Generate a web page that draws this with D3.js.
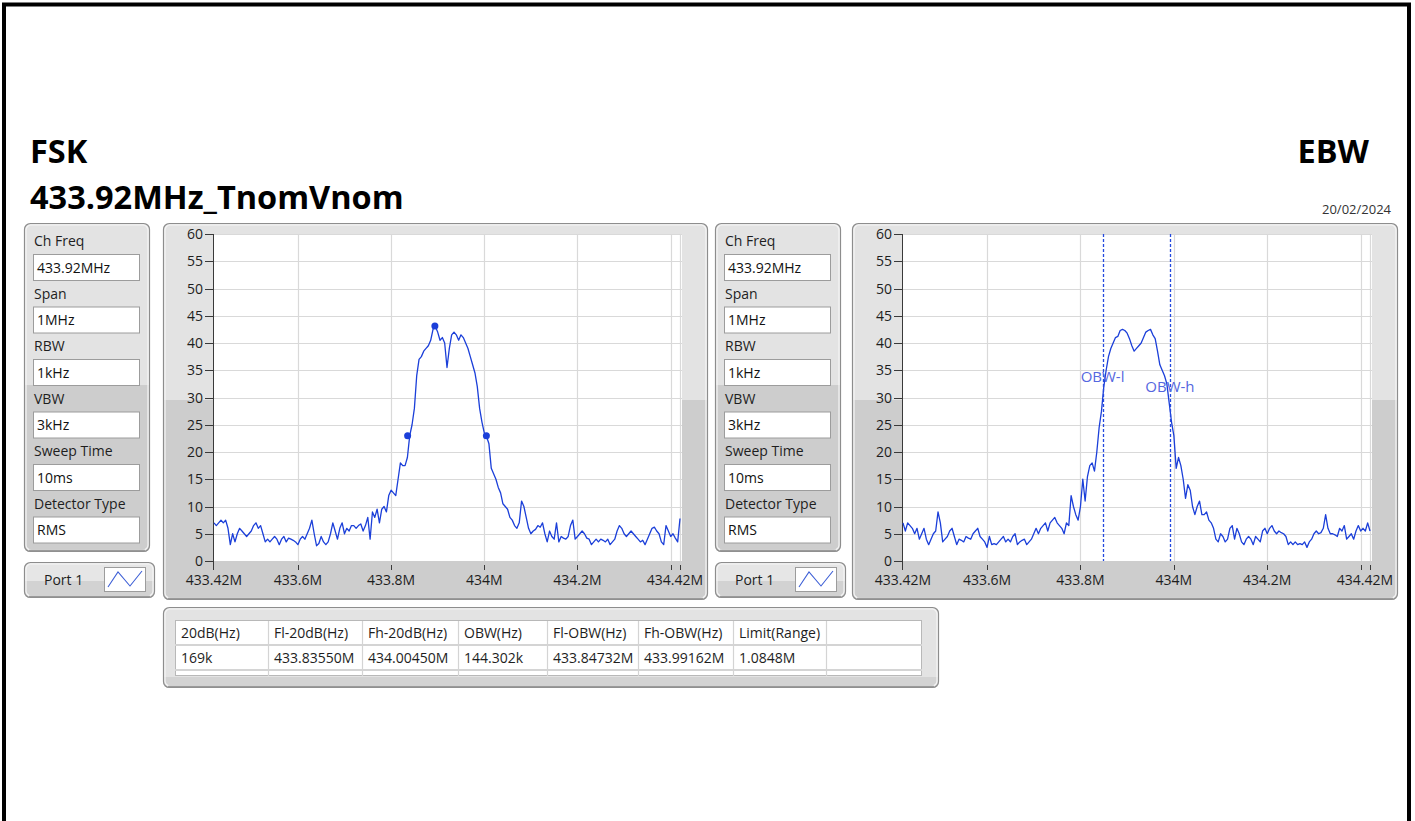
<!DOCTYPE html>
<html>
<head>
<meta charset="utf-8">
<script src="https://cdn.jsdelivr.net/npm/d3@7"></script>
<style>
body { margin: 0; background: #fff; }
svg text { font-family: "Open Sans", "Noto Sans", sans-serif; }
</style>
</head>
<body>
<svg id="page" width="1415" height="821"></svg>
<script>
//
// Data
//
var sweepStart = 433.42,
    sweepStop  = 434.42,
    sweepStep  = 0.005;

var freqTicks      = [433.42, 433.6, 433.8, 434.0, 434.2, 434.4, 434.42];
var freqTickLabels = ["433.42M", "433.6M", "433.8M", "434M", "434.2M", "", "434.42M"];
var levelTicks     = [0, 5, 10, 15, 20, 25, 30, 35, 40, 45, 50, 55, 60];

// 20 dB bandwidth trace (dBuV), one value per sweep step
var trace20dB = [
  7, 6.5, 7, 7.5, 7, 7.5, 6, 3, 5, 3.5, 5, 6, 5.5, 5, 4.5, 5, 5.5, 6.5, 7, 6,
  6.5, 5, 3.5, 4, 3.5, 4, 4.5, 4, 3, 4, 4.5, 3.5, 4.2, 4, 3.8, 3.5, 3, 4, 4.5, 4,
  5, 6, 7.5, 5, 2.8, 3.2, 4.5, 3.5, 3, 3.5, 5, 7, 5.5, 4, 6, 7, 5, 6, 5.5, 6.5,
  6.5, 6, 6.5, 6.8, 5.5, 6.5, 8, 4, 9, 8, 9.5, 7, 9.5, 10, 9, 12, 13, 12.5, 12, 15,
  18, 17.5, 17.5, 19, 23, 25, 28, 34, 37, 37.5, 38.5, 39, 39.5, 40.5, 42.5, 43, 42, 40.5, 41, 40,
  35.5, 39, 41.5, 42, 41.5, 40.5, 41.5, 41, 40, 39, 37.5, 36, 34.5, 32, 28, 25.5, 23.5, 22.8, 21.5, 17,
  16, 15, 13.5, 12.5, 10.5, 10, 9.5, 8, 7.5, 6.5, 6, 7, 11, 10, 8, 6, 5, 5.5, 5.8, 6.5,
  6.2, 7, 5, 3.5, 5.5, 4.5, 4, 7, 3.5, 4.5, 4.2, 4, 4.5, 6.5, 7.5, 4, 4.5, 5, 5.5, 5,
  4.2, 4, 3, 3.5, 4, 3.5, 4, 3.8, 3.5, 4, 3, 3.5, 4, 5.5, 6.5, 6, 5, 4.5, 5, 5.5,
  5, 4.5, 4, 3.5, 3.8, 3, 4, 5, 6, 6.2, 5.5, 5, 3.5, 3, 6.5, 5.5, 4.5, 5, 4.2, 3.5,
  7.8
];

// occupied bandwidth trace (dBuV)
var traceOBW = [
  7, 5.5, 7, 6.5, 6, 5, 6, 4, 5, 6, 4, 3, 4, 5, 5.5, 9, 7, 3.5, 4, 4.5,
  5.5, 6, 4.5, 3, 4, 3.8, 3.5, 4.5, 4.2, 4, 5, 5.5, 6, 4.5, 4, 3.5, 2.5, 4.5, 3, 3.2,
  3, 3.5, 4, 4.5, 3.5, 4, 3.5, 4.5, 5, 3, 3.5, 3.8, 4, 3, 3.5, 4, 5, 6, 5, 6,
  6.5, 7, 5.5, 7, 7.5, 8, 7, 6.5, 6, 5, 7, 6.5, 12, 10, 8.5, 7.5, 10, 15, 11, 15.5,
  17.5, 18, 16.5, 20, 24.5, 27.5, 32, 35, 37.5, 39, 40, 41, 41.2, 42.3, 42.5, 42.3, 41.8, 40.8, 39.5, 38.5,
  39, 39.5, 40, 41, 42, 42.3, 42.5, 41.5, 40.8, 38.5, 36, 35, 34, 32.5, 29, 25.5, 23, 17, 19, 17.5,
  15, 11.5, 14, 13, 10, 8.5, 10, 11, 8.5, 8.5, 9, 7.5, 7, 6, 4, 3.5, 5, 4.5, 3.5, 4,
  6, 6.5, 4, 6, 5, 3.5, 3, 4, 4.5, 4, 3, 4.5, 4, 3.5, 5.5, 6, 5, 6, 6.5, 5.5,
  5, 5.5, 5.2, 5, 4.5, 3, 3.5, 3, 3.5, 3, 3.2, 3, 3.5, 2.5, 3.5, 4, 5, 5.5, 5, 5.2,
  6, 8.5, 6, 5, 5, 4.8, 4.5, 6, 5.5, 6.5, 4, 4.5, 5, 4, 5.5, 6.5, 5.5, 6, 5.5, 7,
  5.5
];

// peak and -20 dB markers
var markerFreqs  = [433.8355, 433.894, 434.0045];
var markerLevels = [23.0, 43.1, 23.0];

// OBW cursors
var cursorNames  = ["OBW-l", "OBW-h"];
var cursorFreqs  = [433.84732, 433.99162];
var cursorLabelLevels = [33.8, 31.9];

var settingNames  = ["Ch Freq", "Span", "RBW", "VBW", "Sweep Time", "Detector Type"];
var settingValues = ["433.92MHz", "1MHz", "1kHz", "3kHz", "10ms", "RMS"];

var tableHeaders = ["20dB(Hz)", "Fl-20dB(Hz)", "Fh-20dB(Hz)", "OBW(Hz)", "Fl-OBW(Hz)", "Fh-OBW(Hz)", "Limit(Range)", ""];
var tableValues  = ["169k", "433.83550M", "434.00450M", "144.302k", "433.84732M", "433.99162M", "1.0848M", ""];

//
// Page
//
var svg = d3.select("#page");
var defs = svg.append("defs");
var traceColor = "#1b3fd9";

svg.append("rect").attr("width", 1415).attr("height", 821).attr("fill", "#fff");

// outer frame (no bottom edge visible)
svg.append("path")
    .attr("d", "M4,830 L4,4.5 L1409,4.5 L1409,830")
    .attr("fill", "none")
    .attr("stroke", "#000")
    .attr("stroke-width", 4);

// titles
svg.append("text").attr("x", 30).attr("y", 163)
    .style("font-size", "32.5px").style("font-weight", 700).attr("fill", "#000")
    .text("FSK");
svg.append("text").attr("x", 30).attr("y", 209)
    .style("font-size", "32.5px").style("font-weight", 700).attr("fill", "#000")
    .text("433.92MHz_TnomVnom");
svg.append("text").attr("x", 1369).attr("y", 163).attr("text-anchor", "end")
    .style("font-size", "32.5px").style("font-weight", 700).attr("fill", "#000")
    .text("EBW");
svg.append("text").attr("x", 1391).attr("y", 214).attr("text-anchor", "end")
    .style("font-size", "13px").attr("fill", "#333")
    .text("20/02/2024");

//
// Panel helper
//
var panelCount = 0;
function drawPanel(x, y, w, h, splitY, lightFill, darkFill) {
    var id = "pclip" + (panelCount++);
    defs.append("clipPath").attr("id", id)
        .append("rect").attr("x", x).attr("y", y).attr("width", w).attr("height", h).attr("rx", 6);
    var g = svg.append("g");
    g.append("rect").attr("x", x).attr("y", y).attr("width", w).attr("height", h).attr("rx", 6)
        .attr("fill", lightFill || "#e3e3e3");
    g.append("rect").attr("x", x).attr("y", splitY).attr("width", w).attr("height", Math.max(0, y + h - splitY))
        .attr("fill", darkFill || "#cdcdcd")
        .attr("clip-path", "url(#" + id + ")");
    g.append("rect").attr("x", x + 0.5).attr("y", y + 0.5).attr("width", w - 1).attr("height", h - 1).attr("rx", 6)
        .attr("fill", "none").attr("stroke", "#8d8d8d").attr("stroke-width", 1.2);
    g.append("rect").attr("x", x + 2).attr("y", y + 2).attr("width", w - 4).attr("height", h - 4).attr("rx", 5)
        .attr("fill", "none").attr("stroke", "#f5f5f5").attr("stroke-width", 1.2);
    g.append("line").attr("x1", x + 5).attr("x2", x + w - 5).attr("y1", y + h - 1.5).attr("y2", y + h - 1.5)
        .attr("stroke", "#9a9a9a").attr("stroke-width", 1.5);
    return g;
}

//
// Settings column + port button
//
function drawSettings(px) {
    var g = drawPanel(px, 223, 126, 329, 385);
    settingNames.forEach(function(name, i) {
        g.append("text").attr("x", px + 10).attr("y", 246 + i * 52.5)
            .style("font-size", "14px").attr("fill", "#1e1e1e").text(name);
        g.append("rect").attr("x", px + 9.5).attr("y", 254.5 + i * 52.5).attr("width", 106).attr("height", 26)
            .attr("fill", "#fff").attr("stroke", "#9c9c9c").attr("stroke-width", 1);
        g.append("text").attr("x", px + 13).attr("y", 272.5 + i * 52.5)
            .style("font-size", "14px").attr("fill", "#111").text(settingValues[i]);
    });

    var b = drawPanel(px, 562, 131, 36, 581, "#e6e6e6", "#d2d2d2");
    b.append("text").attr("x", px + 20).attr("y", 585)
        .style("font-size", "14px").attr("fill", "#1e1e1e").text("Port 1");
    b.append("rect").attr("x", px + 80.5).attr("y", 567.5).attr("width", 41).attr("height", 24)
        .attr("fill", "#fff").attr("stroke", "#9c9c9c");
    b.append("polyline")
        .attr("points", [[px + 84, 587], [px + 94, 572], [px + 106, 586], [px + 118, 571]].join(" "))
        .attr("fill", "none").attr("stroke", "#3d5fd6").attr("stroke-width", 1.1);
}

drawSettings(24);
drawSettings(715);

//
// Spectrum graph helper
//
function drawGraph(panelX, panelW, axisX, endX, trace, opts) {
    var top = 234, bottom = 561;
    drawPanel(panelX, 223, panelW, 377, 400);

    var x = d3.scaleLinear().domain([sweepStart, sweepStop]).range([axisX + 1, endX]);
    var y = d3.scaleLinear().domain([0, 60]).range([bottom, top]);

    var g = svg.append("g");

    g.append("rect").attr("x", axisX).attr("y", top).attr("width", endX + 2 - axisX).attr("height", bottom - top)
        .attr("fill", "#fff");

    // grid
    g.selectAll(".hgrid").data(levelTicks.slice(1)).enter().append("line")
        .attr("x1", axisX).attr("x2", endX + 2)
        .attr("y1", function(d) { return Math.round(y(d)) + 0.5; })
        .attr("y2", function(d) { return Math.round(y(d)) + 0.5; })
        .attr("stroke", "#d9d9d9").attr("stroke-width", 1.2);
    g.selectAll(".vgrid").data(freqTicks.slice(1)).enter().append("line")
        .attr("x1", function(d) { return Math.round(x(d)) + 0.5; })
        .attr("x2", function(d) { return Math.round(x(d)) + 0.5; })
        .attr("y1", top).attr("y2", bottom)
        .attr("stroke", "#d9d9d9").attr("stroke-width", 1.2);

    // y axis
    g.append("line").attr("x1", axisX + 0.5).attr("x2", axisX + 0.5).attr("y1", top).attr("y2", bottom + 9)
        .attr("stroke", "#3a3a3a").attr("stroke-width", 1);
    g.selectAll(".ytick").data(levelTicks).enter().append("line")
        .attr("x1", axisX - 8).attr("x2", axisX)
        .attr("y1", function(d) { return Math.round(y(d)) + 0.5; })
        .attr("y2", function(d) { return Math.round(y(d)) + 0.5; })
        .attr("stroke", "#3a3a3a");
    g.selectAll(".ylab").data(levelTicks).enter().append("text")
        .attr("x", axisX - 10).attr("y", function(d) { return y(d) + 5; })
        .attr("text-anchor", "end")
        .style("font-size", "14px").attr("fill", "#1e1e1e")
        .text(function(d) { return d; });

    // x axis ticks and labels
    g.selectAll(".xtick").data(freqTicks.slice(1)).enter().append("line")
        .attr("x1", function(d) { return Math.round(x(d)) + 0.5; })
        .attr("x2", function(d) { return Math.round(x(d)) + 0.5; })
        .attr("y1", bottom + 4).attr("y2", bottom + 9)
        .attr("stroke", "#3a3a3a");
    g.selectAll(".xlab").data(freqTicks).enter().append("text")
        .attr("x", function(d, i) { return i === freqTicks.length - 1 ? panelX + panelW - 5 : x(d); })
        .attr("y", 585)
        .attr("text-anchor", function(d, i) { return i === freqTicks.length - 1 ? "end" : "middle"; })
        .style("font-size", "14px").attr("fill", "#1e1e1e")
        .text(function(d, i) { return freqTickLabels[i]; });

    // trace
    var line = d3.line()
        .x(function(d, i) { return x(sweepStart + i * sweepStep); })
        .y(function(d) { return y(d); });
    g.append("path").datum(trace)
        .attr("d", line)
        .attr("fill", "none")
        .attr("stroke", traceColor)
        .attr("stroke-width", 1.3)
        .attr("stroke-linejoin", "round");

    if (opts.markers) {
        g.selectAll(".mk").data(markerFreqs).enter().append("circle")
            .attr("cx", function(d) { return x(d); })
            .attr("cy", function(d, i) { return y(markerLevels[i]); })
            .attr("r", 3.5)
            .attr("fill", traceColor);
    }

    if (opts.cursors) {
        g.selectAll(".cur").data(cursorFreqs).enter().append("line")
            .attr("x1", function(d) { return Math.round(x(d)) + 0.5; })
            .attr("x2", function(d) { return Math.round(x(d)) + 0.5; })
            .attr("y1", top).attr("y2", bottom)
            .attr("stroke", "#2449de").attr("stroke-width", 1.3)
            .attr("stroke-dasharray", "3,2");
        g.selectAll(".curlab").data(cursorFreqs).enter().append("text")
            .attr("x", function(d) { return x(d); })
            .attr("y", function(d, i) { return y(cursorLabelLevels[i]) + 5; })
            .attr("text-anchor", "middle")
            .style("font-size", "15px").attr("fill", "#5567e0")
            .text(function(d, i) { return cursorNames[i]; });
    }
}

drawGraph(163, 545, 213, 680, trace20dB, { markers: true });
drawGraph(852, 546, 902, 1370, traceOBW, { cursors: true });

//
// Result table
//
var colEdges = [175, 268, 362, 458, 547, 638, 733, 826, 922];
var tg = drawPanel(163, 607, 776, 81, 677, "#e3e3e3", "#d3d3d3");
tg.append("rect").attr("x", 175).attr("y", 620).attr("width", 747).attr("height", 56).attr("fill", "#fff");
tg.append("rect").attr("x", 175.5).attr("y", 620.5).attr("width", 746).attr("height", 55)
    .attr("fill", "none").attr("stroke", "#b8b8b8");
[645, 670].forEach(function(ry) {
    tg.append("line").attr("x1", 175).attr("x2", 922).attr("y1", ry).attr("y2", ry)
        .attr("stroke", "#d4d4d4").attr("stroke-width", 2);
});
colEdges.slice(1, -1).forEach(function(cx) {
    tg.append("line").attr("x1", cx + 0.5).attr("x2", cx + 0.5).attr("y1", 621).attr("y2", 676)
        .attr("stroke", "#d4d4d4").attr("stroke-width", 1.2);
});
tableHeaders.forEach(function(t, i) {
    var cid = "cell" + i;
    defs.append("clipPath").attr("id", cid)
        .append("rect").attr("x", colEdges[i]).attr("y", 620)
        .attr("width", colEdges[i + 1] - colEdges[i] - 1).attr("height", 56);
    var cg = tg.append("g").attr("clip-path", "url(#" + cid + ")");
    cg.append("text").attr("x", colEdges[i] + 6).attr("y", 638)
        .style("font-size", "14px").attr("fill", "#1e1e1e").text(t);
    cg.append("text").attr("x", colEdges[i] + 6).attr("y", 663)
        .style("font-size", "14px").attr("fill", "#1e1e1e").text(tableValues[i]);
});
</script>
</body>
</html>
